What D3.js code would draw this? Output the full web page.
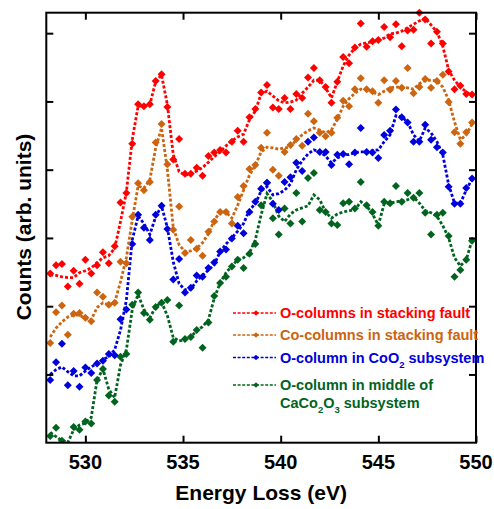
<!DOCTYPE html>
<html>
<head>
<meta charset="utf-8">
<script src="https://cdn.jsdelivr.net/npm/d3@7"></script>
<style>
  body { margin: 0; background: #fff; }
  svg { display: block; font-family: Arial, "Liberation Sans", sans-serif; font-weight: bold; }
  .tick-label { font-size: 20px; }
  .axis-title { font-size: 21px; }
  .legend-text { font-size: 14.5px; }
</style>
</head>
<body>
<script>
// energy channels: 528.2 eV onwards, 0.3 eV per channel
const E_START = 528.2, E_STEP = 0.3, N_CH = 73;
const energy = d3.range(N_CH).map(i => +(E_START + i * E_STEP).toFixed(2));

const X_TICKS = [530, 535, 540, 545, 550];
const Y_TICKS = [1, 2, 3, 4, 5, 6];

// measured points (markers)
const redPts = [2.48,2.60,2.62,2.29,2.52,2.33,2.68,2.48,2.60,2.79,2.63,2.88,3.52,3.66,4.38,4.96,4.93,4.96,5.30,5.40,
  4.92,4.15,4.45,3.94,3.94,4.03,3.91,4.20,4.25,4.29,4.25,4.41,4.57,4.41,4.77,4.89,5.13,5.24,4.91,4.89,
  5.05,4.89,5.11,5.05,5.35,5.49,5.31,5.21,4.98,5.29,5.65,5.56,5.79,6.14,5.80,5.88,5.90,6.09,5.94,6.13,
  5.81,6.04,6.05,6.30,6.20,5.85,6.02,5.85,5.44,5.18,5.23,5.11,5.10];
const orangePts = [1.46,1.91,2.01,1.58,1.89,1.90,1.83,1.78,2.20,2.14,2.02,2.05,2.65,2.63,3.31,3.80,3.70,3.82,4.40,4.67,
  4.08,3.12,3.46,2.78,2.97,2.84,2.74,3.09,3.24,3.38,3.38,3.21,3.60,3.76,4.01,4.07,4.32,4.54,4.00,3.91,
  4.26,4.36,4.45,4.35,4.82,4.71,4.54,4.49,4.54,4.76,5.01,4.93,5.18,5.34,5.18,5.15,4.98,5.31,5.17,5.30,
  5.20,5.49,5.12,5.21,5.33,5.20,5.30,5.39,4.99,4.55,4.38,4.55,4.69];
const bluePts = [0.92,1.18,1.45,0.84,1.05,0.82,1.10,1.02,1.16,1.20,1.30,1.28,1.81,1.95,2.91,3.34,3.15,2.97,3.34,3.47,
  3.13,2.39,2.69,2.20,2.27,2.45,2.43,2.56,2.64,2.80,2.83,2.99,3.18,3.07,3.38,3.53,3.72,3.81,3.50,3.41,
  3.82,3.89,4.10,3.98,4.41,4.47,4.26,4.26,4.07,4.22,4.23,4.08,4.25,4.61,4.26,4.25,4.17,4.51,4.57,4.88,
  4.77,4.69,4.41,4.41,4.66,4.44,4.33,4.25,3.75,3.50,3.50,3.73,3.87];
const greenPts = [0.10,0.22,0.03,-0.04,0.23,0.19,0.31,0.28,0.92,1.08,0.69,0.60,1.26,1.30,2.02,2.20,1.90,1.80,1.99,2.05,
  2.09,1.48,2.01,1.52,1.55,1.65,1.39,1.76,2.15,2.34,2.43,2.58,2.68,2.56,2.77,2.91,3.48,3.81,3.29,3.05,
  3.43,3.21,3.66,3.24,3.88,3.95,3.41,3.38,3.21,3.19,3.51,3.53,3.43,3.82,3.48,3.38,3.18,3.53,3.51,3.76,
  3.53,3.66,3.59,3.66,3.37,3.05,3.34,3.37,3.03,2.43,2.53,2.68,2.96];

// smoothed curves (dotted lines)
const redFit = [2.46,2.45,2.43,2.42,2.42,2.49,2.52,2.56,2.64,2.71,2.74,2.85,3.24,3.67,4.44,4.93,4.93,4.95,5.29,5.39,
  4.95,4.22,3.97,3.92,3.94,3.98,4.03,4.11,4.19,4.26,4.35,4.42,4.48,4.52,4.73,4.86,5.11,5.15,5.08,5.01,
  4.98,4.99,5.02,5.12,5.21,5.31,5.31,5.20,5.05,5.29,5.52,5.68,5.78,5.84,5.86,5.87,5.90,5.93,5.99,6.00,
  6.03,6.08,6.13,6.18,6.22,6.12,6.02,5.81,5.46,5.31,5.21,5.14,5.08];
const orangeFit = [1.55,1.68,1.77,1.84,1.87,1.87,1.82,1.80,1.98,2.05,2.02,2.05,2.36,2.71,3.26,3.76,3.73,3.85,4.32,4.61,
  4.00,3.15,2.90,2.80,2.81,2.85,2.93,3.06,3.26,3.38,3.38,3.29,3.48,3.70,3.92,4.06,4.26,4.33,4.32,4.30,
  4.32,4.33,4.44,4.51,4.57,4.61,4.58,4.54,4.58,4.74,4.93,5.04,5.12,5.18,5.18,5.14,5.10,5.15,5.20,5.21,
  5.21,5.20,5.18,5.26,5.31,5.31,5.30,5.21,5.02,4.70,4.44,4.51,4.67];
const blueFit = [1.00,1.07,1.11,1.04,0.98,0.98,1.05,1.11,1.16,1.22,1.26,1.36,1.65,2.09,2.97,3.32,3.21,3.05,3.31,3.47,
  3.15,2.65,2.33,2.24,2.25,2.37,2.45,2.53,2.61,2.80,2.91,3.00,3.10,3.21,3.41,3.50,3.69,3.75,3.63,3.65,
  3.70,3.79,4.00,4.13,4.23,4.29,4.26,4.20,4.10,4.17,4.22,4.22,4.25,4.26,4.26,4.28,4.29,4.41,4.51,4.79,
  4.77,4.70,4.51,4.42,4.61,4.54,4.41,4.22,3.78,3.51,3.51,3.70,3.87];
const greenFit = [0.15,0.09,0.03,0.00,0.19,0.26,0.29,0.37,0.92,1.08,0.78,0.66,1.14,1.36,1.95,2.17,1.95,1.83,1.99,2.06,
  1.86,1.54,1.49,1.51,1.55,1.64,1.70,1.80,2.12,2.34,2.49,2.59,2.68,2.71,2.78,2.97,3.34,3.65,3.53,3.32,
  3.24,3.35,3.41,3.44,3.47,3.63,3.56,3.38,3.29,3.35,3.38,3.40,3.41,3.53,3.47,3.35,3.19,3.50,3.51,3.53,
  3.54,3.56,3.60,3.51,3.40,3.37,3.32,3.18,3.00,2.71,2.59,2.68,2.97];

const series = [
  { pts: greenPts,  fit: greenFit,  color: "#00641e" },
  { pts: bluePts,   fit: blueFit,   color: "#0000dc" },
  { pts: orangePts, fit: orangeFit, color: "#cc6410" },
  { pts: redPts,    fit: redFit,    color: "#ff0000" }
];

const legendItems = [
  { color: "#ff0000", lines: [["O-columns in stacking fault"]] },
  { color: "#cc6410", lines: [["Co-columns in stacking fault"]] },
  { color: "#0000dc", lines: [["O-column in CoO"], ["2", "sub"], [" subsystem"]] },
  { color: "#00641e", lines: [["O-column in middle of"]], second: [["CaCo"], ["2", "sub"], ["O"], ["3", "sub"], [" subsystem"]] }
];

const W = 494, H = 509;
const margin = { top: 12.7, right: 18, bottom: 66.3, left: 46.3 };

const svg = d3.select("body").append("svg")
  .attr("width", W).attr("height", H)
  .attr("viewBox", [0, 0, W, H]);

const x = d3.scaleLinear().domain([528, 550]).range([margin.left, W - margin.right]);
const y = d3.scaleLinear().domain([0, 6.3]).range([H - margin.bottom, margin.top]);

svg.append("defs").append("clipPath").attr("id", "plotclip")
  .append("rect")
  .attr("x", margin.left).attr("y", margin.top - 6)
  .attr("width", W - margin.left - margin.right)
  .attr("height", H - margin.top - margin.bottom + 6);

const plot = svg.append("g").attr("clip-path", "url(#plotclip)");

const line = d3.line()
  .x((d, i) => x(energy[i]))
  .y(d => y(d));

const diamond = d3.symbol().type(d3.symbolSquare).size(32);

series.forEach(s => {
  plot.append("path")
    .attr("d", line(s.fit))
    .attr("fill", "none")
    .attr("stroke", s.color)
    .attr("stroke-width", 2.8)
    .attr("stroke-dasharray", "3,2");

  plot.append("g")
    .selectAll("path")
    .data(s.pts)
    .enter()
    .append("path")
    .attr("d", diamond)
    .attr("fill", s.color)
    .attr("transform", (d, i) => `translate(${x(energy[i])},${y(d)}) rotate(45)`);
});

// Axes: bottom/top with inward ticks, left/right with inward ticks
const tickLen = 7;
const gx = svg.append("g")
  .attr("transform", `translate(0,${y(0)})`)
  .call(d3.axisTop(x).tickValues(X_TICKS).tickSize(tickLen).tickFormat(""));
const gxt = svg.append("g")
  .attr("transform", `translate(0,${y(6.3)})`)
  .call(d3.axisBottom(x).tickValues(X_TICKS).tickSize(tickLen).tickFormat(""));
const gyl = svg.append("g")
  .attr("transform", `translate(${x(528)},0)`)
  .call(d3.axisRight(y).tickValues(Y_TICKS).tickSize(tickLen).tickFormat(""));
const gyr = svg.append("g")
  .attr("transform", `translate(${x(550)},0)`)
  .call(d3.axisLeft(y).tickValues(Y_TICKS).tickSize(tickLen).tickFormat(""));

[gx, gxt, gyl, gyr].forEach(g => {
  g.select(".domain").remove();
  g.selectAll(".tick line").attr("stroke", "#000").attr("stroke-width", 2);
});

svg.append("rect")
  .attr("x", x(528)).attr("y", y(6.3))
  .attr("width", x(550) - x(528)).attr("height", y(0) - y(6.3))
  .attr("fill", "none").attr("stroke", "#000").attr("stroke-width", 2);

svg.append("g")
  .selectAll("text")
  .data(X_TICKS)
  .enter()
  .append("text")
  .attr("class", "tick-label")
  .attr("x", d => x(d))
  .attr("y", y(0) + 26)
  .attr("text-anchor", "middle")
  .text(d => d);

svg.append("text")
  .attr("class", "axis-title")
  .attr("x", (x(528) + x(550)) / 2)
  .attr("y", 500)
  .attr("text-anchor", "middle")
  .text("Energy Loss (eV)");

svg.append("text")
  .attr("class", "axis-title")
  .attr("transform", "translate(31,227) rotate(-90)")
  .attr("text-anchor", "middle")
  .text("Counts (arb. units)");

// Legend
const legendRowY = [318, 340, 362.5, 390];
const legend = svg.append("g");

// text with subscripts; baseline restored after each subscript
const addRich = (g, parts, xPos, yPos, color) => {
  const t = g.append("text").attr("class", "legend-text")
    .attr("x", xPos).attr("y", yPos).attr("fill", color);
  let shifted = false;
  parts.forEach(p => {
    const ts = t.append("tspan").text(p[0]);
    if (p[1] === "sub") { ts.attr("font-size", 9.5).attr("dy", 5); shifted = true; }
    else if (shifted) { ts.attr("dy", -5); shifted = false; }
  });
  return t;
};

legendItems.forEach((item, i) => {
  const cy = legendRowY[i] - 5;
  const row = legend.append("g");
  row.append("line")
    .attr("x1", 233).attr("x2", 276)
    .attr("y1", cy).attr("y2", cy)
    .attr("stroke", item.color)
    .attr("stroke-width", 1.6)
    .attr("stroke-dasharray", "3,1.6");
  row.append("path")
    .attr("d", d3.symbol().type(d3.symbolSquare).size(16))
    .attr("fill", item.color)
    .attr("transform", `translate(256,${cy}) rotate(45)`);
  addRich(row, item.lines, 280, legendRowY[i], item.color);
  if (item.second) addRich(row, item.second, 280, legendRowY[i] + 17.5, item.color);
});
</script>
</body>
</html>
